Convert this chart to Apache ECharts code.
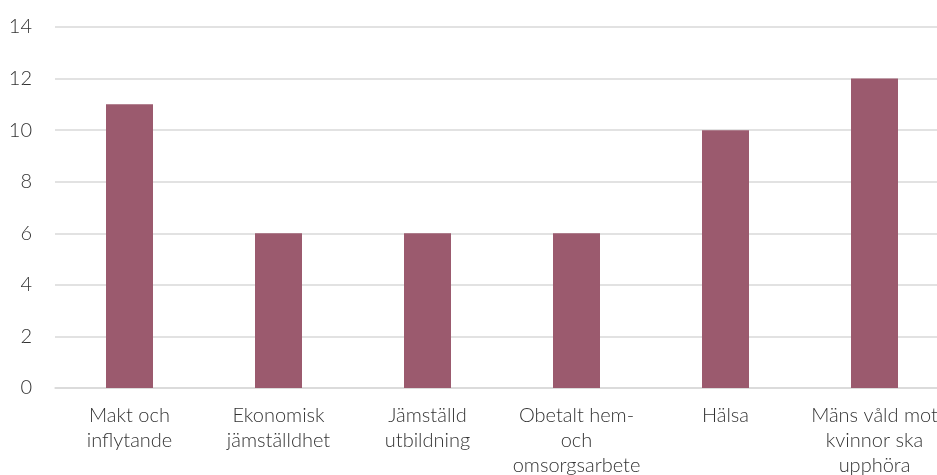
<!DOCTYPE html>
<html><head><meta charset="utf-8">
<script src="https://cdn.jsdelivr.net/npm/echarts@6/dist/echarts.min.js"></script>
<style>html,body{margin:0;padding:0;background:#fff;overflow:hidden}#c{width:937px;height:475px}</style>
</head><body><div id="c"></div>
<script>
var categories = ["Makt och\ninflytande","Ekonomisk\njämställdhet","Jämställd\nutbildning","Obetalt hem-\noch\nomsorgsarbete","Hälsa","Mäns våld mot\nkvinnor ska\nupphöra"];
var values = [11, 6, 6, 6, 10, 12];
var yMin = 0, yMax = 14, yInterval = 2;

var chart = echarts.init(document.getElementById('c'));
chart.setOption({
  animation: false,
  grid: {left: 55, right: -12, top: 27, bottom: 87, containLabel: false, outerBoundsMode: 'none'},
  xAxis: {
    type: 'category', data: categories,
    axisLine: {show: true, lineStyle: {color: '#d9d9d9', width: 1.5}},
    axisTick: {show: false},
    axisLabel: {interval: 0, color: '#333', fontFamily: 'Lato', fontWeight: 300, fontSize: 20, lineHeight: 25, margin: 15, hideOverlap: false}
  },
  yAxis: {
    type: 'value', min: yMin, max: yMax, interval: yInterval,
    axisLine: {show: false}, axisTick: {show: false},
    splitLine: {lineStyle: {color: '#d9d9d9', width: 1.5}},
    axisLabel: {color: '#333', fontFamily: 'Lato', fontWeight: 300, fontSize: 20, margin: 23}
  },
  series: [{
    type: 'bar', data: values, barWidth: 47,
    itemStyle: {color: '#9b5a6e'}
  }]
});
</script></body></html>
